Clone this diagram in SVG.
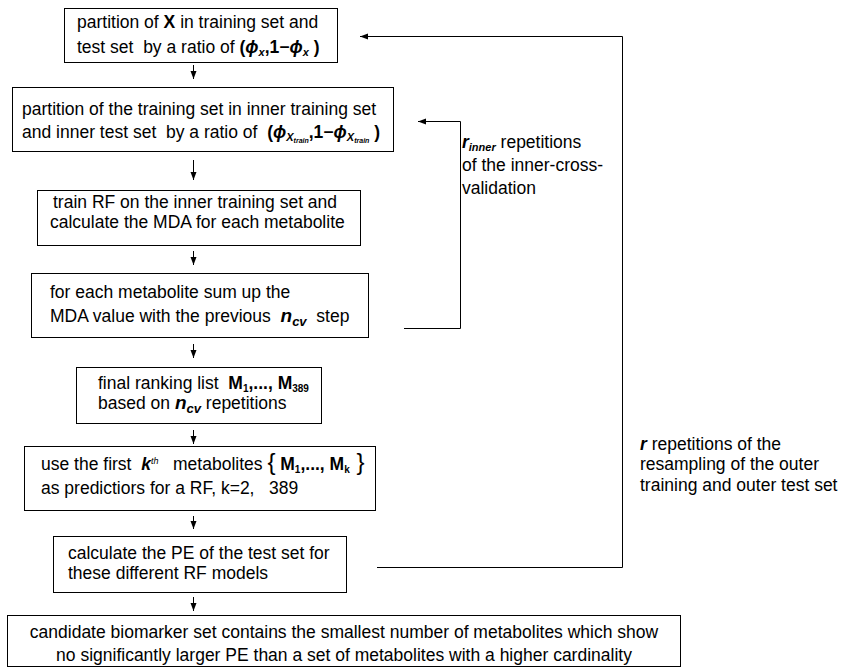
<svg xmlns="http://www.w3.org/2000/svg" width="842" height="668" viewBox="0 0 842 668">
<defs>
<marker id="ah" markerWidth="9" markerHeight="8" refX="8" refY="3.5" orient="auto" markerUnits="userSpaceOnUse">
<path d="M0,0.5 L8,3.5 L0,6.5 z" fill="#000"/>
</marker>
<style>
text { font-family: "Liberation Sans", Arial, sans-serif; font-size: 17.5px; fill: #000; }
.box { fill: #fff; stroke: #000; stroke-width: 1; }
.b { font-weight: bold; }
.bi { font-weight: bold; font-style: italic; }
.sub { font-size: 11px; }
.ss { font-size: 7px; }
.conn { fill: none; stroke: #000; stroke-width: 1; }
.arr { fill: none; stroke: #000; stroke-width: 1; marker-end: url(#ah); }
</style>
</defs>
<rect width="842" height="668" fill="#fff"/>

<g id="connectors">
<line class="arr" x1="193.5" y1="65" x2="193.5" y2="79"/>
<line class="arr" x1="193.5" y1="160" x2="193.5" y2="180"/>
<line class="arr" x1="193.5" y1="251" x2="193.5" y2="265"/>
<line class="arr" x1="193.5" y1="344" x2="193.5" y2="358"/>
<line class="arr" x1="193.5" y1="430" x2="193.5" y2="444"/>
<line class="arr" x1="193.5" y1="516" x2="193.5" y2="529"/>
<line class="arr" x1="193.5" y1="597" x2="193.5" y2="611"/>
<polyline class="arr" points="404,328.5 460.5,328.5 460.5,121.5 418,121.5"/>
<polyline class="arr" points="377,567.5 622.5,567.5 622.5,36.5 360,36.5"/>
</g>

<g id="n1">
<rect class="box" x="64.5" y="8.5" width="273" height="54"/>
<text x="77" y="28">partition of <tspan class="b">X</tspan> in training set and</text>
<text x="77" y="53" xml:space="preserve">test set  by a ratio of <tspan class="b">(</tspan><tspan class="bi">ϕ</tspan><tspan class="bi sub" dy="3">x</tspan><tspan class="b" dy="-3">,1−</tspan><tspan class="bi">ϕ</tspan><tspan class="bi sub" dy="3">x</tspan><tspan class="b" dy="-3"> )</tspan></text>
</g>

<g id="n2">
<rect class="box" x="12.5" y="87.5" width="381" height="64"/>
<text x="22" y="115">partition of the training set in inner training set</text>
<text x="22" y="138" xml:space="preserve">and inner test set  by a ratio of  <tspan class="b">(</tspan><tspan class="bi">ϕ</tspan><tspan class="bi sub" dy="3">X</tspan><tspan class="bi ss" dy="2">train</tspan><tspan class="b" dy="-5">,1−</tspan><tspan class="bi">ϕ</tspan><tspan class="bi sub" dy="3">X</tspan><tspan class="bi ss" dy="2">train</tspan><tspan class="b" dy="-5"> )</tspan></text>
</g>

<g id="n3">
<rect class="box" x="37.5" y="190.5" width="323" height="55"/>
<text x="53" y="208">train RF on the inner training set and</text>
<text x="50" y="228">calculate the MDA for each metabolite</text>
</g>

<g id="n4">
<rect class="box" x="31.5" y="273.5" width="337" height="64"/>
<text x="50" y="298">for each metabolite sum up the</text>
<text x="50" y="322" xml:space="preserve">MDA value with the previous  <tspan class="bi" font-size="19">n</tspan><tspan class="bi" font-size="13" dy="4">cv</tspan><tspan dy="-4">  step</tspan></text>
</g>

<g id="n5">
<rect class="box" x="76.5" y="367.5" width="245" height="56"/>
<text x="98" y="389" xml:space="preserve">final ranking list  <tspan class="b">M</tspan><tspan class="b" font-size="10" dy="3">1</tspan><tspan class="b" dy="-3">,..., M</tspan><tspan class="b" font-size="10" dy="3">389</tspan></text>
<text x="98" y="409" xml:space="preserve">based on <tspan class="bi" font-size="19">n</tspan><tspan class="bi" font-size="13" dy="4">cv</tspan><tspan dy="-4"> repetitions</tspan></text>
</g>

<g id="n6">
<rect class="box" x="24.5" y="446.5" width="351" height="64"/>
<text x="41" y="470" xml:space="preserve">use the first  <tspan class="bi">k</tspan><tspan font-style="italic" font-size="9" dy="-6">th</tspan><tspan dy="6">   metabolites </tspan><tspan font-size="24">{</tspan><tspan class="b"> M</tspan><tspan class="b" font-size="10" dy="3">1</tspan><tspan class="b" dy="-3">,..., M</tspan><tspan class="b" font-size="10" dy="3">k</tspan><tspan font-size="24" dy="-3"> }</tspan></text>
<text x="41" y="494" xml:space="preserve">as predictiors for a RF, k=2,   389</text>
</g>

<g id="n7">
<rect class="box" x="53.5" y="536.5" width="293" height="56"/>
<text x="68" y="559">calculate the PE of the test set for</text>
<text x="68" y="579">these different RF models</text>
</g>

<g id="n8">
<rect class="box" x="7.5" y="615.5" width="673" height="51"/>
<text x="344" y="638" text-anchor="middle">candidate biomarker set contains the smallest number of metabolites which show</text>
<text x="344" y="661" text-anchor="middle">no significantly larger PE than a set of metabolites with a higher cardinality</text>
</g>

<g id="label-inner">
<text x="462" y="148" xml:space="preserve"><tspan class="bi">r</tspan><tspan class="bi sub" dy="3">inner</tspan><tspan dy="-3"> repetitions</tspan></text>
<text x="462" y="171">of the inner-cross-</text>
<text x="462" y="194">validation</text>
</g>

<g id="label-outer">
<text x="640" y="450" xml:space="preserve"><tspan class="bi">r</tspan> repetitions of the</text>
<text x="640" y="470">resampling of the outer</text>
<text x="640" y="491">training and outer test set</text>
</g>
</svg>
